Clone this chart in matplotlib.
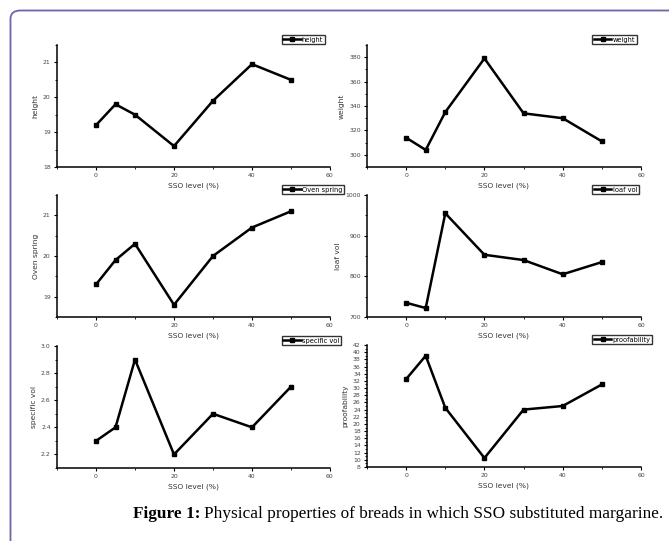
import matplotlib
matplotlib.use("Agg")
import matplotlib.pyplot as plt
from matplotlib.patches import FancyBboxPatch
from matplotlib.ticker import MultipleLocator

# SSO substitution levels
sso = [0, 5, 10, 20, 30, 40, 50]

height = [19.2, 19.8, 19.5, 18.6, 19.9, 20.95, 20.5]
weight = [314, 304, 335, 379, 334, 330, 311]
oven_spring = [19.3, 19.9, 20.3, 18.8, 20.0, 20.7, 21.1]
loaf_vol = [735, 722, 955, 853, 840, 805, 835]
specific_vol = [2.3, 2.4, 2.9, 2.2, 2.5, 2.4, 2.7]
proofability = [32.5, 39, 24.5, 10.5, 24, 25, 31]

W, H = 669, 541
fig = plt.figure(figsize=(W / 100, H / 100), dpi=100)

# rounded frame around the figure
frame = FancyBboxPatch((10.5 / W, -0.1), 1.2, 1.1 - 10.5 / H,
                       boxstyle="round,pad=0,rounding_size=0.015",
                       transform=fig.transFigure, fill=False,
                       edgecolor="#6a66a8", linewidth=1.3)
fig.patches.append(frame)

panels = [
    # data, label, ylim, major, minor, left, top, right (pixels)
    (height, "height", (18, 21.5), 1, 0.5, 57, 45, 330),
    (weight, "weight", (290, 390), 20, 10, 367, 45, 641),
    (oven_spring, "Oven spring", (18.5, 21.5), 1, 0.5, 57, 195, 330),
    (loaf_vol, "loaf vol", (700, 1000), 100, 50, 367, 195, 641),
    (specific_vol, "specific vol", (2.1, 3.0), 0.2, 0.1, 57, 346, 330),
    (proofability, "proofability", (8, 42), 2, 1, 367, 345, 641),
]

for vals, name, ylim, major, minor, x0, top, x1 in panels:
    bottom = top + 122
    ax = fig.add_axes([x0 / W, 1 - bottom / H, (x1 - x0) / W, 122 / H])
    ax.plot(sso, vals, color="black", linewidth=1.8, marker="s", markersize=2.5,
            label=name)
    ax.set_xlim(-10, 60)
    ax.set_ylim(*ylim)
    ax.xaxis.set_major_locator(MultipleLocator(20))
    ax.xaxis.set_minor_locator(MultipleLocator(10))
    ax.yaxis.set_major_locator(MultipleLocator(major))
    ax.yaxis.set_minor_locator(MultipleLocator(minor))
    if name == "specific vol":
        ax.yaxis.set_major_formatter(matplotlib.ticker.FormatStrFormatter("%.1f"))
    ax.spines["top"].set_visible(False)
    ax.spines["right"].set_visible(False)
    for s in ("left", "bottom"):
        ax.spines[s].set_linewidth(1.1)
    ax.tick_params(which="major", direction="out", length=2.5, width=0.8,
                   labelsize=4.4, labelcolor="#444", pad=2)
    ax.tick_params(which="minor", direction="out", length=1.5, width=0.6)
    ax.set_xlabel("SSO level (%)", fontsize=5.4, color="#333", labelpad=3)
    ax.set_ylabel(name, fontsize=5.4, color="#333", labelpad=3)
    leg = ax.legend(loc="lower left", bbox_to_anchor=(0.82, 1.0), fontsize=4.8,
                    frameon=True, fancybox=False, handlelength=2.6,
                    borderpad=0.25, handletextpad=0.2, borderaxespad=0.1)
    leg.get_frame().set_edgecolor("black")
    leg.get_frame().set_linewidth(1.0)

# caption: bold "Figure 1:" followed by normal text
cap_y = 1 - 514 / H
t1 = fig.text(133 / W, cap_y, "Figure 1:", fontsize=12.4, fontweight="bold",
              family="Liberation Serif", ha="left", va="center")
r = fig.canvas.get_renderer()
bb = t1.get_window_extent(renderer=r)
fig.text(bb.x1 / W + 4 / W, cap_y,
         "Physical properties of breads in which SSO substituted margarine.",
         fontsize=12.4, family="Liberation Serif", ha="left", va="center")

fig.savefig("out.png", dpi=100)
